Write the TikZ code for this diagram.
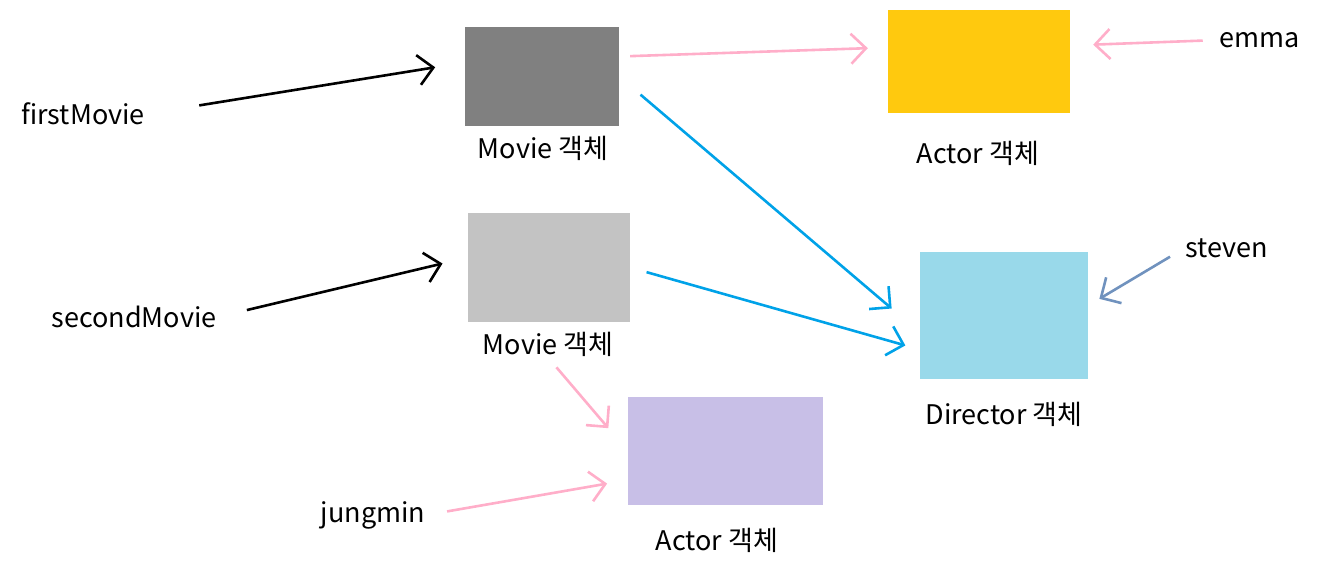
\documentclass[tikz,border=0pt]{standalone}
\usepackage{fontspec}
\setmainfont{Noto Sans CJK KR}
\usetikzlibrary{arrows.meta}
\definecolor{pinkline}{HTML}{FFAEC9}
\definecolor{blueline}{HTML}{00A2E8}
\definecolor{greyblue}{HTML}{7092BE}
\definecolor{movieone}{HTML}{808080}
\definecolor{movietwo}{HTML}{C3C3C3}
\definecolor{actorone}{HTML}{FFC90E}
\definecolor{actortwo}{HTML}{C8BFE7}
\definecolor{director}{HTML}{99D9EA}
\tikzset{
  obj/.style={minimum width=#1, inner sep=0pt},
  txt/.style={font=\fontsize{27}{32}\selectfont, inner sep=1pt},
  ref/.style={line width=2.6pt, -{Straight Barb[length=15pt,width=30pt,line width=2.6pt]}}
}
\begin{document}
\begin{tikzpicture}[x=1pt,y=-1pt]
  \useasboundingbox (0,0) rectangle (1343,574);
  % objects
  \node[obj=154pt, minimum height=99pt, fill=movieone] (movieA) at (542,76.5) {};
  \node[obj=162pt, minimum height=109pt, fill=movietwo] (movieB) at (549,267.5) {};
  \node[obj=182pt, minimum height=103pt, fill=actorone] (actorA) at (979,61.5) {};
  \node[obj=195pt, minimum height=108pt, fill=actortwo] (actorB) at (725.5,451) {};
  \node[obj=168pt, minimum height=127pt, fill=director] (dir) at (1004,315.5) {};
  \node[txt] (movieAlbl) at (543,148) {Movie 객체};
  \node[txt] (movieBlbl) at (548,344) {Movie 객체};
  \node[txt] (actorAlbl) at (978,153) {Actor 객체};
  \node[txt] (actorBlbl) at (717,540) {Actor 객체};
  \node[txt] (dirlbl) at (1004,414) {Director 객체};
  % variables
  \node[txt] (firstMovie) at (83,114) {firstMovie};
  \node[txt] (secondMovie) at (134,317) {secondMovie};
  \node[txt] (emma) at (1260,40) {emma};
  \node[txt] (steven) at (1227,248) {steven};
  \node[txt] (jungmin) at (373,515) {jungmin};
  % references
  \draw[ref, black, shorten <=54pt, shorten >=30pt] (firstMovie.east) -- ([yshift=14pt]movieA.west);
  \draw[ref, black, shorten <=30pt, shorten >=26pt] (secondMovie.east) -- ([yshift=10pt]movieB.west);
  \draw[ref, pinkline, shorten <=11pt, shorten >=20pt] ([yshift=20pt]movieA.east) -- ([yshift=14pt]actorA.west);
  \draw[ref, pinkline, shorten <=16pt, shorten >=23pt] (emma.west) -- ([yshift=16pt]actorA.east);
  \draw[ref, blueline, shorten <=28pt, shorten >=37pt] (movieA.east) -- ([yshift=-17pt]dir.west);
  \draw[ref, blueline, shorten <=17pt, shorten >=15pt] (movieB.east) -- ([yshift=-34pt]dir.west);
  \draw[ref, greyblue, shorten <=17pt, shorten >=13pt] (steven.west) -- ([yshift=10pt]dir.east);
  \draw[ref, pinkline, shorten <=13pt, shorten >=30pt] (movieBlbl.south) -- (actorB.west);
  \draw[ref, pinkline, shorten <=21pt, shorten >=21pt] (jungmin.east) -- ([yshift=-29pt]actorB.west);
\end{tikzpicture}
\end{document}
